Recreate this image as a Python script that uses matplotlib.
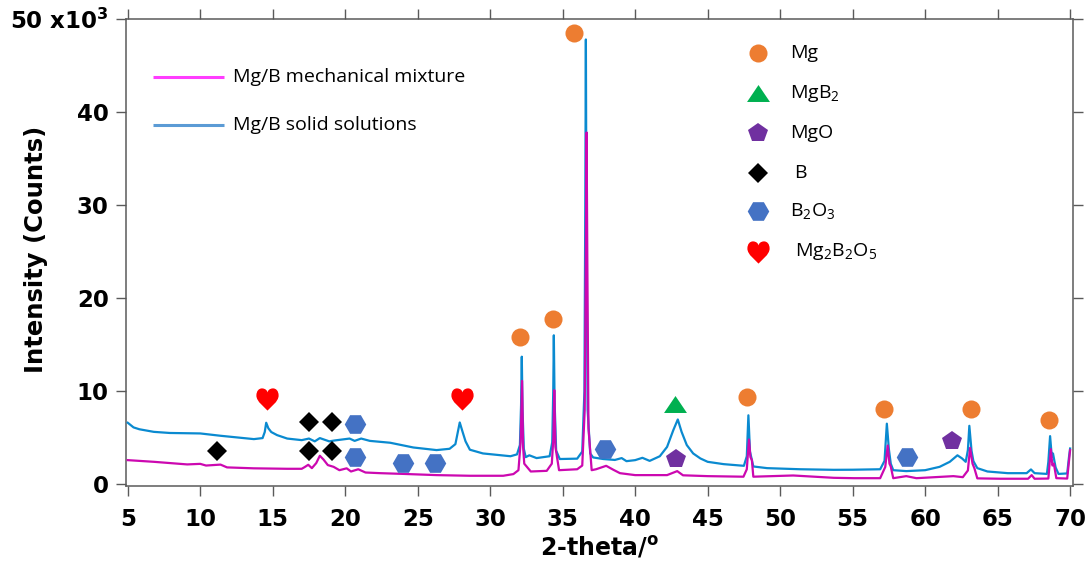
import matplotlib
matplotlib.use("Agg")
import matplotlib.pyplot as plt
from matplotlib.path import Path

plt.rcParams['mathtext.default'] = 'regular'

# ---- diffraction patterns (2-theta in degrees, intensity in 10^3 counts) ----
solid_tt = [5.0, 5.4, 5.8, 6.8, 7.9, 10.0, 11.4, 13.7, 14.3, 14.45, 14.55, 14.7, 14.9, 15.3,
            16.0, 17.0, 17.5, 17.9, 18.25, 18.9, 19.3, 20.3, 20.65, 21.1, 21.7, 23.1, 24.7,
            26.3, 27.2, 27.6, 27.9, 28.1, 28.3, 28.6, 29.5, 31.4, 31.85, 32.05, 32.13, 32.18,
            32.23, 32.32, 32.45, 32.7, 33.2, 34.1, 34.28, 34.35, 34.39, 34.44, 34.55, 34.8,
            36.0, 36.35, 36.5, 36.56, 36.6, 36.64, 36.72, 36.9, 37.1, 37.8, 38.6, 39.07, 39.4,
            40.0, 40.5, 41.0, 41.7, 42.2, 42.63, 42.94, 43.2, 43.56, 44.0, 44.5, 45.0, 46.1,
            47.5, 47.7, 47.81, 47.92, 48.15, 49.1, 51.4, 53.7, 55.0, 56.9, 57.2, 57.36, 57.5,
            57.63, 57.8, 58.7, 60.0, 61.0, 61.7, 62.23, 62.55, 62.8, 62.95, 63.05, 63.2, 63.33,
            63.6, 64.3, 65.7, 67.0, 67.3, 67.55, 68.4, 68.5, 68.62, 68.74, 68.82, 69.0, 69.2,
            69.8, 69.93, 70.0]
solid_I = [6.6, 6.1, 5.9, 5.62, 5.5, 5.45, 5.2, 4.84, 4.95, 5.6, 6.6, 6.0, 5.6, 5.27,
           4.9, 4.73, 4.9, 4.6, 4.95, 4.6, 4.7, 4.9, 4.65, 4.9, 4.65, 4.45, 3.94,
           3.66, 3.8, 4.3, 6.63, 5.6, 4.6, 3.7, 3.3, 3.0, 3.2, 4.2, 8.5, 13.7,
           8.0, 3.8, 2.9, 3.1, 2.8, 3.0, 4.5, 10.0, 16.0, 9.0, 3.6, 2.7,
           2.74, 3.5, 10.0, 30.0, 47.8, 28.0, 8.0, 3.3, 2.87, 2.7, 2.6, 2.8, 2.47,
           2.58, 2.83, 2.5, 3.0, 4.0, 5.8, 6.95, 5.63, 4.2, 3.3, 2.76, 2.4, 2.15,
           1.97, 3.0, 7.4, 3.5, 1.9, 1.72, 1.6, 1.54, 1.55, 1.6, 2.5, 6.5, 3.75,
           2.2, 1.5, 1.4, 1.5, 1.86, 2.4, 3.1, 2.76, 2.4, 3.66, 6.27, 3.6, 2.47,
           1.72, 1.36, 1.18, 1.18, 1.58, 1.18, 1.1, 2.4, 5.16, 2.9, 3.3, 1.8, 1.1,
           1.15, 3.0, 3.83]

mix_tt = [5.0, 6.8, 9.1, 10.0, 10.4, 11.4, 11.85, 13.7, 16.0, 17.0, 17.2, 17.45, 17.7, 18.0,
          18.25, 18.5, 18.8, 19.2, 19.6, 20.1, 20.4, 20.9, 21.4, 22.4, 24.0, 26.3, 28.6,
          30.9, 31.6, 31.95, 32.1, 32.2, 32.27, 32.35, 32.8, 33.9, 34.25, 34.36, 34.42,
          34.5, 34.75, 36.0, 36.35, 36.52, 36.6, 36.65, 36.7, 36.78, 37.0, 37.3, 38.0,
          38.5, 38.95, 40.0, 42.2, 42.9, 43.3, 45.0, 47.47, 47.7, 47.85, 47.95, 48.05,
          48.15, 50.9, 53.7, 55.1, 56.9, 57.25, 57.42, 57.54, 57.63, 57.8, 58.7, 59.4,
          61.95, 62.6, 62.95, 63.1, 63.27, 63.4, 63.6, 65.2, 67.1, 67.35, 67.55, 68.5,
          68.67, 68.78, 68.88, 69.05, 69.8, 70.0]
mix_I = [2.58, 2.4, 2.12, 2.18, 2.0, 2.1, 1.8, 1.7, 1.65, 1.65, 1.83, 2.08, 1.72, 2.26,
         3.05, 2.65, 2.05, 1.86, 1.5, 1.7, 1.36, 1.6, 1.25, 1.18, 1.1, 0.97, 0.9,
         0.9, 1.08, 1.5, 4.5, 11.1, 4.0, 2.2, 1.36, 1.43, 2.2, 5.0, 10.1,
         4.0, 1.5, 1.6, 2.0, 8.0, 25.0, 37.8, 24.0, 6.0, 1.5, 1.6, 1.97,
         1.54, 1.18, 0.97, 0.97, 1.4, 0.95, 0.86, 0.8, 1.6, 4.8, 2.9, 2.6,
         0.8, 0.93, 0.68, 0.64, 0.64, 1.85, 4.15, 2.2, 1.9, 0.64, 0.86, 0.64,
         0.86, 0.75, 1.47, 3.9, 2.2, 1.7, 0.62, 0.58, 0.58, 0.97, 0.58, 0.6,
         3.76, 2.0, 2.2, 0.64, 0.6, 3.66]

# ---- phase identification markers ----
mg_tt = [32.06, 34.36, 35.8, 47.7, 57.17, 63.17, 68.55]
mg_I = [15.84, 17.8, 48.5, 9.39, 8.06, 8.06, 6.88]
mgb2_tt = [42.73]
mgb2_I = [8.6]
mgo_tt = [42.8, 61.88]
mgo_I = [2.65, 4.66]
b_tt = [11.16, 17.5, 19.07, 17.5, 19.07]
b_I = [3.55, 6.63, 6.63, 3.55, 3.55]
b2o3_tt = [20.7, 20.7, 24.0, 26.2, 37.95, 58.73]
b2o3_I = [6.45, 2.9, 2.22, 2.22, 3.76, 2.87]
mg2b2o5_tt = [14.6, 28.06]
mg2b2o5_I = [9.2, 9.2]

xticks = [5, 10, 15, 20, 25, 30, 35, 40, 45, 50, 55, 60, 65, 70]
yticks = [0, 10, 20, 30, 40, 50]
ytick_labels = ['0', '10', '20', '30', '40', r'50 x10$^{3}$']

# custom marker shapes
heart = Path(
    [(0, -1.0),
     (-0.25, -0.7), (-1.0, -0.2), (-1.0, 0.35),
     (-1.0, 0.8), (-0.75, 1.0), (-0.5, 1.0),
     (-0.2, 1.0), (0, 0.8), (0, 0.6),
     (0, 0.8), (0.2, 1.0), (0.5, 1.0),
     (0.75, 1.0), (1.0, 0.8), (1.0, 0.35),
     (1.0, -0.2), (0.25, -0.7), (0, -1.0),
     (0, -1.0)],
    [Path.MOVETO] + [Path.CURVE4] * 18 + [Path.CLOSEPOLY])
wide_triangle = [(-1.0, -0.74), (1.0, -0.74), (0.0, 0.74)]

phases = [
    # (x, y, marker, size, colour, legend label, label x-offset)
    (mg_tt, mg_I, 'o', 13, '#ED7D31', 'Mg', 0.0),
    (mgb2_tt, mgb2_I, wide_triangle, 16.5, '#00B050', r'MgB$_2$', 0.0),
    (mgo_tt, mgo_I, 'p', 14.5, '#7030A0', 'MgO', 0.0),
    (b_tt, b_I, 'D', 10, 'black', 'B', 0.005),
    (b2o3_tt, b2o3_I, 'H', 15.5, '#4472C4', r'B$_2$O$_3$', 0.0),
    (mg2b2o5_tt, mg2b2o5_I, heart, 16, '#FF0000', r'Mg$_2$B$_2$O$_5$', 0.005),
]

fig = plt.figure(figsize=(10.91, 5.67), dpi=100)
ax = fig.add_axes([126 / 1091, 81 / 567, 947 / 1091, 467 / 567])

ax.plot(solid_tt, solid_I, color='#0A8AD0', lw=1.6, zorder=3)
ax.plot(mix_tt, mix_I, color='#CC08B0', lw=1.6, zorder=4)

for xs, ys, mk, ms, col, lab, dx in phases:
    ax.plot(xs, ys, ls='none', marker=mk, ms=ms, color=col, mec=col, mew=0, zorder=5)

ax.set_xlim(4.88, 70.2)
ax.set_ylim(-0.2, 50)
ax.set_xticks(xticks)
ax.set_xticklabels([str(t) for t in xticks])
ax.set_yticks(yticks)
ax.set_yticklabels(ytick_labels)

axis_grey = '#5A5A5A'
for s in ax.spines.values():
    s.set_color(axis_grey)
    s.set_linewidth(1.1)
ax.tick_params(axis='both', which='major', direction='out', length=7.5, width=1.0,
               color=axis_grey, top=True, right=True, labeltop=False, labelright=False)
ax.tick_params(axis='x', pad=8)
ax.tick_params(axis='y', pad=5)
bold_font = dict(fontfamily='DejaVu Sans', fontweight='bold')
for lbl in ax.get_xticklabels() + ax.get_yticklabels():
    lbl.set_fontfamily('DejaVu Sans')
    lbl.set_fontweight('bold')
    lbl.set_fontsize(16.5)

ax.set_xlabel(r'2-theta/$^{o}$', fontsize=17, **bold_font)
ax.xaxis.set_label_coords(0.5, -0.103)
ax.set_ylabel('Intensity (Counts)', fontsize=17.5, **bold_font)
ax.yaxis.set_label_coords(-0.082, 0.5075)

# pattern legend (upper left)
legend_font = dict(fontfamily='Open Sans', fontsize=14)
series_keys = [('Mg/B mechanical mixture', '#FF3DFF', 0.875),
               ('Mg/B solid solutions', '#5B9BD5', 0.773)]
for text, col, yy in series_keys:
    ax.plot([0.0285, 0.1035], [yy, yy], color=col, lw=2.2, transform=ax.transAxes,
            solid_capstyle='butt')
    ax.text(0.113, yy, text, transform=ax.transAxes, va='center', ha='left', **legend_font)

# phase legend (upper right)
key_rows = [0.928, 0.8415, 0.756, 0.671, 0.588, 0.502]
for (xs, ys, mk, ms, col, lab, dx), yy in zip(phases, key_rows):
    ax.plot([0.667], [yy], ls='none', marker=mk, ms=ms, color=col, mew=0,
            transform=ax.transAxes, clip_on=False)
    ax.text(0.701 + dx, yy, lab, transform=ax.transAxes, va='center', ha='left',
            **legend_font)

fig.savefig('out.png', dpi=100)
